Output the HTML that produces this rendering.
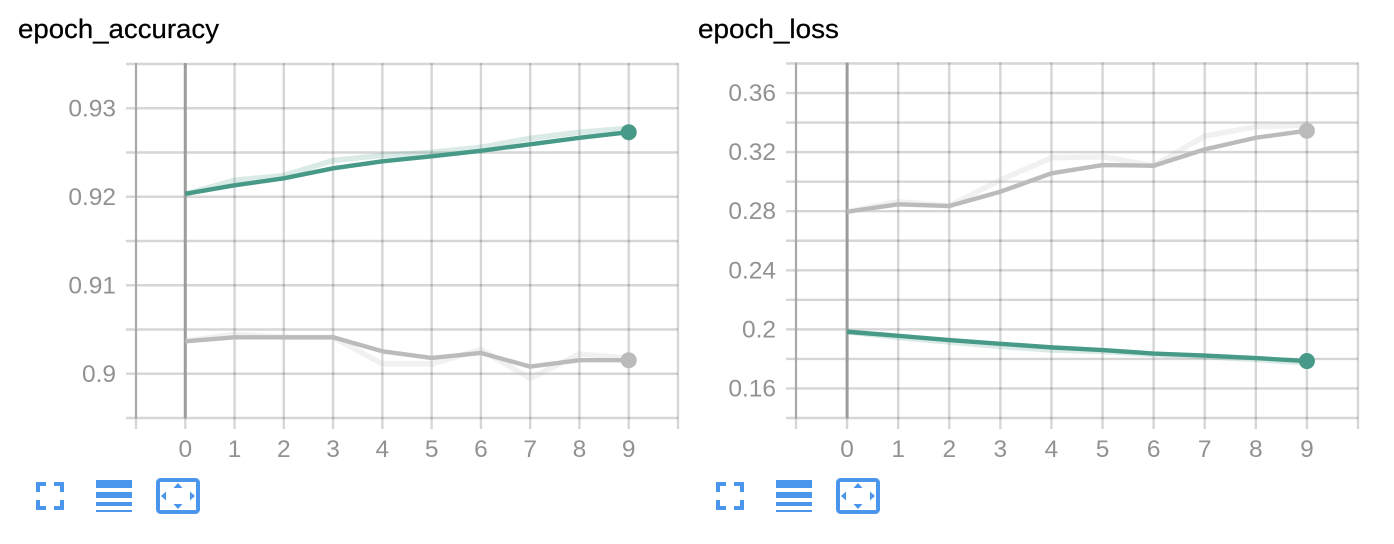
<!DOCTYPE html>
<html lang="en">
<head>
<meta charset="utf-8">
<title>epoch charts</title>
<style>
  html, body { margin: 0; padding: 0; background: #fff; }
  body { width: 1394px; height: 544px; overflow: hidden; }
  svg { display: block; }
  .title { font-family: "Liberation Sans", sans-serif; font-size: 27px; fill: #000; stroke: #000; stroke-width: 0.25px; }
  .tick-label { font-family: "Liberation Sans", sans-serif; font-size: 24.5px; fill: #929292; }
  .ico { fill: #4a96ec; }
</style>
</head>
<body>
<svg id="root" width="1394" height="544" viewBox="0 0 1394 544" xmlns="http://www.w3.org/2000/svg">
  <text class="title" x="18" y="38" textLength="201" lengthAdjust="spacingAndGlyphs">epoch_accuracy</text>
  <text class="title" x="698" y="38" textLength="141" lengthAdjust="spacingAndGlyphs">epoch_loss</text>
  <g id="chart-accuracy"></g>
  <g id="chart-loss"></g>

  <g>
    <g transform="translate(0,0)">
      <path class="ico" d="M36 482h10v4h-6v6h-4zM54 482h10v10h-4v-6h-6zM36 500h4v6h6v4h-10zM60 500h4v10h-10v-4h6z"/>
    </g>
    <g>
      <rect class="ico" x="96" y="480" width="36" height="8"/>
      <rect class="ico" x="96" y="492" width="36" height="6"/>
      <rect class="ico" x="96" y="502" width="36" height="4"/>
      <rect class="ico" x="96" y="510" width="36" height="2"/>
    </g>
    <g>
      <rect x="158" y="480" width="40" height="32" rx="2.5" fill="none" stroke="#4a96ec" stroke-width="4"/>
      <path class="ico" d="M178 483l4.5 5h-9zM178 509l4.5-5h-9zM161 496l5-4.5v9zM195 496l-5-4.5v9z"/>
    </g>
  </g>

  <g>
    <g>
      <path class="ico" d="M716 482h10v4h-6v6h-4zM734 482h10v10h-4v-6h-6zM716 500h4v6h6v4h-10zM740 500h4v10h-10v-4h6z"/>
    </g>
    <g>
      <rect class="ico" x="776" y="480" width="36" height="8"/>
      <rect class="ico" x="776" y="492" width="36" height="6"/>
      <rect class="ico" x="776" y="502" width="36" height="4"/>
      <rect class="ico" x="776" y="510" width="36" height="2"/>
    </g>
    <g>
      <rect x="838" y="480" width="40" height="32" rx="2.5" fill="none" stroke="#4a96ec" stroke-width="4"/>
      <path class="ico" d="M858 483l4.5 5h-9zM858 509l4.5-5h-9zM841 496l5-4.5v9zM875 496l-5-4.5v9z"/>
    </g>
  </g>
</svg>

<script>
const steps = [0, 1, 2, 3, 4, 5, 6, 7, 8, 9];

const accuracyTickValues = [0.93, 0.92, 0.91, 0.90];
const accuracyTickLabels = ["0.93", "0.92", "0.91", "0.9"];
const accuracyGridValues = [0.935, 0.93, 0.925, 0.92, 0.915, 0.91, 0.905, 0.90, 0.895];
const accuracyTealRaw = [0.9203, 0.92186, 0.9224, 0.9241, 0.92468, 0.92502, 0.92559, 0.9266, 0.92729, 0.92774];
const accuracyTealSmooth = [0.92033, 0.92129, 0.92208, 0.92321, 0.924, 0.92457, 0.92519, 0.92593, 0.92666, 0.92729];
const accuracyGrayRaw = [0.90367, 0.90446, 0.90412, 0.90412, 0.90111, 0.90111, 0.90273, 0.89949, 0.90224, 0.90175];
const accuracyGraySmooth = [0.90367, 0.90412, 0.90412, 0.90412, 0.90254, 0.90179, 0.90235, 0.90081, 0.90153, 0.90153];

const lossTickValues = [0.36, 0.32, 0.28, 0.24, 0.20, 0.16];
const lossTickLabels = ["0.36", "0.32", "0.28", "0.24", "0.2", "0.16"];
const lossGridValues = [0.38, 0.36, 0.34, 0.32, 0.30, 0.28, 0.26, 0.24, 0.22, 0.20, 0.18, 0.16, 0.14];
const lossTealRaw = [0.19839, 0.19446, 0.19141, 0.18836, 0.186, 0.18498, 0.18295, 0.1816, 0.17957, 0.1772];
const lossTealSmooth = [0.19839, 0.19568, 0.19277, 0.19026, 0.18782, 0.186, 0.18363, 0.18228, 0.18058, 0.17855];
const lossGrayRaw = [0.27963, 0.2864, 0.28349, 0.3011, 0.31619, 0.31687, 0.31078, 0.33089, 0.33718, 0.33833];
const lossGraySmooth = [0.27963, 0.28464, 0.28349, 0.29318, 0.30563, 0.31125, 0.31078, 0.32188, 0.32974, 0.33448];

const NS = "http://www.w3.org/2000/svg";

function makeEl(parent, tag) {
  const el = document.createElementNS(NS, tag);
  parent.appendChild(el);
  return el;
}

function drawSeries(group, points, color, opacity, width, name) {
  const line = makeEl(group, "polyline");
  
  
  line.setAttribute("points", points.map(function (p) { return p[0].toFixed(2) + "," + p[1].toFixed(2); }).join(" "));
  line.setAttribute("fill", "none");
  line.setAttribute("stroke", color);
  line.setAttribute("stroke-opacity", opacity);
  line.setAttribute("stroke-width", width);
  line.setAttribute("stroke-linejoin", "round");
}

function drawChart(group, frame, domain, gridValues, tickValues, tickLabels, series) {
  const xScale = function (v) { return frame.left + (v + 1) * (frame.right - frame.left) / 11; };
  const yScale = function (v) { return frame.top + (domain[1] - v) * (frame.bottom - frame.top) / (domain[1] - domain[0]); };

  gridValues.forEach(function (v) {
    const line = makeEl(group, "line");
    
    
    line.setAttribute("x1", frame.left - 10);
    line.setAttribute("x2", frame.right);
    line.setAttribute("y1", yScale(v));
    line.setAttribute("y2", yScale(v));
    line.setAttribute("stroke", "#000");
    line.setAttribute("stroke-opacity", "0.16");
    line.setAttribute("stroke-width", "2.4");
  });

  const gridSteps = [-1].concat(steps, [10]);
  gridSteps.forEach(function (s) {
    const line = makeEl(group, "line");
    
    
    line.setAttribute("x1", xScale(s));
    line.setAttribute("x2", xScale(s));
    line.setAttribute("y1", frame.top - 1);
    line.setAttribute("y2", frame.bottom + 11);
    line.setAttribute("stroke", "#000");
    line.setAttribute("stroke-opacity", "0.16");
    line.setAttribute("stroke-width", "2.4");
  });

  const yAxis = makeEl(group, "line");
  
  
  yAxis.setAttribute("x1", xScale(-1));
  yAxis.setAttribute("x2", xScale(-1));
  yAxis.setAttribute("y1", frame.top - 1);
  yAxis.setAttribute("y2", frame.bottom);
  yAxis.setAttribute("stroke", "#a8a8a8");
  yAxis.setAttribute("stroke-width", "2");

  const zeroLine = makeEl(group, "line");
  
  
  zeroLine.setAttribute("x1", xScale(0));
  zeroLine.setAttribute("x2", xScale(0));
  zeroLine.setAttribute("y1", frame.top - 1);
  zeroLine.setAttribute("y2", frame.bottom);
  zeroLine.setAttribute("stroke", "#9c9c9c");
  zeroLine.setAttribute("stroke-width", "3");

  tickValues.forEach(function (v, i) {
    const label = makeEl(group, "text");
    
    
    label.setAttribute("class", "tick-label");
    label.setAttribute("x", frame.left - 20);
    label.setAttribute("y", yScale(v) + 8);
    label.setAttribute("text-anchor", "end");
    label.textContent = tickLabels[i];
  });

  steps.forEach(function (s) {
    const label = makeEl(group, "text");
    
    
    label.setAttribute("class", "tick-label");
    label.setAttribute("x", xScale(s));
    label.setAttribute("y", 457);
    label.setAttribute("text-anchor", "middle");
    label.textContent = String(s);
  });

  series.forEach(function (entry) {
    const rawPoints = steps.map(function (s, i) { return [xScale(s), yScale(entry.raw[i])]; });
    const smoothPoints = steps.map(function (s, i) { return [xScale(s), yScale(entry.smooth[i])]; });
    drawSeries(group, rawPoints, entry.color, 0.2, 5.5, entry.name + "-raw-line");
    drawSeries(group, smoothPoints, entry.color, 1, 4.4, entry.name + "-smoothed-line");
    const last = smoothPoints[smoothPoints.length - 1];
    const dot = makeEl(group, "circle");
    
    
    dot.setAttribute("cx", last[0]);
    dot.setAttribute("cy", last[1]);
    dot.setAttribute("r", "8");
    dot.setAttribute("fill", entry.color);
  });
}

drawChart(
  document.getElementById("chart-accuracy"),
  { left: 136, right: 678, top: 64, bottom: 418 },
  [0.895, 0.935],
  accuracyGridValues,
  accuracyTickValues,
  accuracyTickLabels,
  [
    { raw: accuracyGrayRaw, smooth: accuracyGraySmooth, color: "#bbbbbb", name: "accuracy-gray" },
    { raw: accuracyTealRaw, smooth: accuracyTealSmooth, color: "#489a88", name: "accuracy-teal" }
  ]
);

drawChart(
  document.getElementById("chart-loss"),
  { left: 796, right: 1358, top: 63.5, bottom: 418 },
  [0.14, 0.38],
  lossGridValues,
  lossTickValues,
  lossTickLabels,
  [
    { raw: lossGrayRaw, smooth: lossGraySmooth, color: "#bbbbbb", name: "loss-gray" },
    { raw: lossTealRaw, smooth: lossTealSmooth, color: "#489a88", name: "loss-teal" }
  ]
);
</script>
</body>
</html>
